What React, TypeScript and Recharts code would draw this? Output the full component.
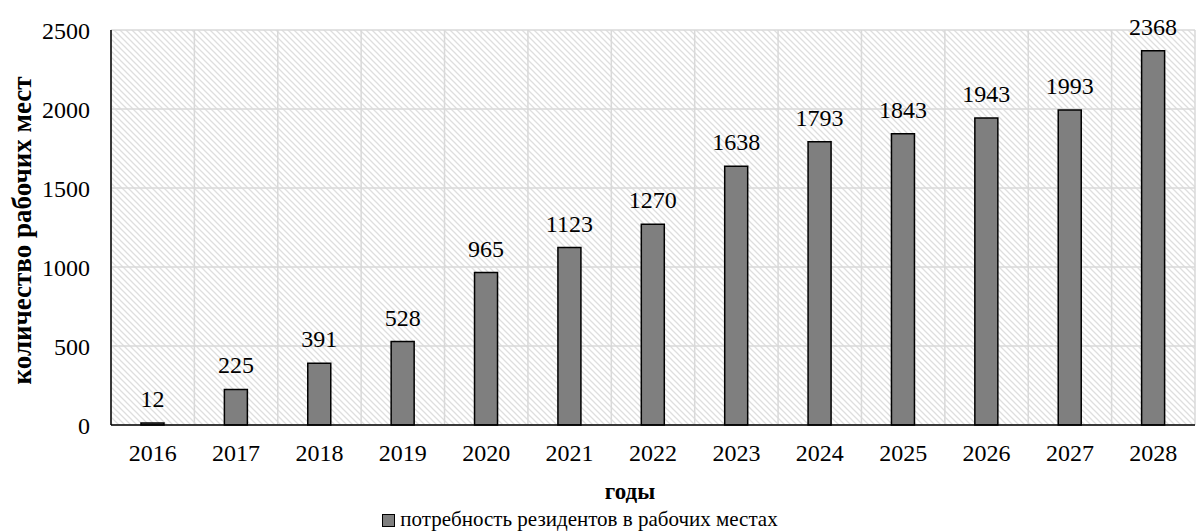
import React from 'react';
import { BarChart, Bar, XAxis, YAxis, CartesianGrid, LabelList, Legend, Label } from 'recharts';

const years = ['2016', '2017', '2018', '2019', '2020', '2021', '2022', '2023', '2024', '2025', '2026', '2027', '2028'];
const demand = [12, 225, 391, 528, 965, 1123, 1270, 1638, 1793, 1843, 1943, 1993, 2368];
const yTicks = [0, 500, 1000, 1500, 2000, 2500];
const seriesName = 'потребность резидентов в рабочих местах';
const xTitle = 'годы';
const yTitle = 'количество рабочих мест';

const data = years.map((y, i) => ({ year: y, value: demand[i] }));

const FONT = '"Liberation Serif", "Times New Roman", serif';

const vertGen = (props: any) => {
  const off = props.offset;
  const n = years.length;
  const res: number[] = [];
  for (let i = 0; i <= n; i++) res.push(off.left + (off.width * i) / n);
  return res;
};

const YTitle = (props: any) => {
  const vb = props.viewBox || { x: 0, y: 30, width: 111, height: 395 };
  const cx = vb.x + 22;
  const cy = vb.y + vb.height / 2 + 3;
  return (
    <text
      x={cx}
      y={cy}
      transform={`rotate(-90, ${cx}, ${cy})`}
      textAnchor="middle"
      dominantBaseline="central"
      fontFamily={FONT}
      fontWeight="bold"
      fontSize={27}
      fill="#000"
    >
      {yTitle}
    </text>
  );
};

const LegendContent = () => (
  <div
    style={{
      fontFamily: FONT,
      fontSize: 21,
      color: '#000',
      textAlign: 'center',
      paddingRight: 35,
      lineHeight: '24px',
      whiteSpace: 'nowrap',
    }}
  >
    <span
      style={{
        display: 'inline-block',
        width: 11,
        height: 11,
        background: '#7f7f7f',
        border: '1.5px solid #000',
        marginRight: 5,
        verticalAlign: '-1px',
      }}
    />
    {seriesName}
  </div>
);

export default function App() {
  return (
    <div style={{ position: 'absolute', left: 0, top: 0, background: '#fff' }}>
      <svg width={0} height={0} style={{ position: 'absolute' }}>
        <defs>
          <pattern id="hatch" patternUnits="userSpaceOnUse" width={6} height={6}>
            <path d="M-1,5 L1,7 M0,0 L6,6 M5,-1 L7,1" stroke="#dedede" strokeWidth={1.3} />
          </pattern>
        </defs>
      </svg>
      <BarChart
        width={1197}
        height={531}
        data={data}
        margin={{ top: 30, right: 2, left: 0, bottom: 0 }}
        barCategoryGap={0}
      >
        <CartesianGrid
          stroke="#d9d9d9"
          strokeWidth={1.5}
          fill="url(#hatch)"
          fillOpacity={1}
          verticalCoordinatesGenerator={vertGen}
        />
        <XAxis
          dataKey="year"
          height={82}
          tickSize={0}
          tickMargin={19}
          axisLine={{ stroke: '#000', strokeWidth: 1.5 }}
          tick={{ fill: '#000', fontFamily: FONT, fontSize: 24 }}
          interval={0}
        >
          <Label
            value={xTitle}
            position="insideBottom"
            offset={8}
            dx={-23}
            style={{ fontFamily: FONT, fontWeight: 'bold', fontSize: 23, fill: '#000' }}
          />
        </XAxis>
        <YAxis
          width={111}
          domain={[0, 2500]}
          ticks={yTicks}
          tickSize={0}
          tickMargin={21}
          axisLine={{ stroke: '#000', strokeWidth: 1.5 }}
          tick={{ fill: '#000', fontFamily: FONT, fontSize: 24 }}
          label={<YTitle />}
        />
        <Legend verticalAlign="bottom" height={24} content={<LegendContent />} />
        <Bar
          dataKey="value"
          name={seriesName}
          fill="#7f7f7f"
          stroke="#000"
          strokeWidth={1.5}
          barSize={23}
          isAnimationActive={false}
        >
          <LabelList
            dataKey="value"
            position="top"
            offset={16}
            style={{ fontFamily: FONT, fontSize: 24, fill: '#000' }}
          />
        </Bar>
      </BarChart>
    </div>
  );
}
